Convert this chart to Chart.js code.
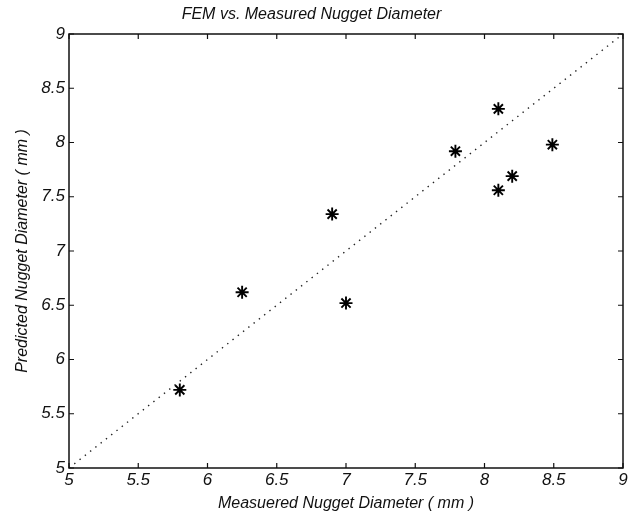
<!DOCTYPE html>
<html>
<head>
<meta charset="utf-8">
<title>FEM vs. Measured Nugget Diameter</title>
<script src="https://cdn.jsdelivr.net/npm/chart.js@4.4.1/dist/chart.umd.min.js"></script>
<style>
  html, body { margin: 0; padding: 0; background: #fff; }
  #wrap { width: 634px; height: 518px; }
</style>
</head>
<body>
<div id="wrap"><canvas id="nuggetChart"></canvas></div>
<script>
// measured vs predicted nugget diameters (mm)
const measured  = [5.80, 6.25, 6.90, 7.00, 7.79, 8.10, 8.10, 8.20, 8.49];
const predicted = [5.72, 6.62, 7.34, 6.52, 7.92, 8.31, 7.56, 7.69, 7.98];
// y = x reference line end points
const refLine = [5, 9];
const tickValues = [5, 5.5, 6, 6.5, 7, 7.5, 8, 8.5, 9];

const FONT = 'Liberation Sans, Arial, Helvetica, sans-serif';
const INK = '#111';

// matlab-style box with inward ticks on all four sides
const boxTicks = {
    id: 'boxTicks',
    afterDraw(chart) {
        const { ctx, chartArea: a, scales: { x, y } } = chart;
        ctx.save();
        ctx.strokeStyle = INK;
        ctx.lineWidth = 1.5;
        ctx.strokeRect(a.left, a.top, a.right - a.left, a.bottom - a.top);
        ctx.lineWidth = 1.2;
        ctx.beginPath();
        tickValues.forEach(v => {
            const px = x.getPixelForValue(v);
            ctx.moveTo(px, a.bottom); ctx.lineTo(px, a.bottom - 5);
            ctx.moveTo(px, a.top); ctx.lineTo(px, a.top + 5);
            const py = y.getPixelForValue(v);
            ctx.moveTo(a.left, py); ctx.lineTo(a.left + 5, py);
            ctx.moveTo(a.right, py); ctx.lineTo(a.right - 5, py);
        });
        ctx.stroke();
        ctx.restore();
    }
};

const tickFont = { family: FONT, size: 17, style: 'italic', weight: 'normal' };
const titleFont = { family: FONT, size: 16, style: 'italic', weight: 'normal' };

new Chart(document.getElementById('nuggetChart'), {
    data: {
        datasets: [
            {
                type: 'scatter',
                data: measured.map((m, i) => ({ x: m, y: predicted[i] })),
                pointStyle: 'star',
                pointRadius: 6.5,
                borderColor: '#000',
                backgroundColor: '#000',
                borderWidth: 1.9,
                order: 1
            },
            {
                type: 'line',
                data: refLine.map(v => ({ x: v, y: v })),
                borderColor: '#222',
                borderWidth: 1.4,
                borderDash: [1.4, 5.3],
                pointRadius: 0,
                fill: false,
                order: 2
            }
        ]
    },
    options: {
        responsive: true,
        maintainAspectRatio: false,
        animation: false,
        layout: { padding: { top: 0, right: 11, bottom: 0, left: 0 } },
        plugins: {
            legend: { display: false },
            tooltip: { enabled: false },
            title: {
                display: true,
                text: 'FEM vs. Measured Nugget Diameter',
                color: INK,
                font: titleFont,
                padding: { top: 5, bottom: 9.8 }
            }
        },
        scales: {
            x: {
                type: 'linear',
                min: 5,
                max: 9,
                grid: { display: false, drawTicks: false },
                border: { display: false },
                ticks: {
                    stepSize: 0.5,
                    color: INK,
                    font: tickFont,
                    padding: 2,
                    callback: v => String(v)
                },
                title: {
                    display: true,
                    text: 'Measuered Nugget Diameter ( mm )',
                    color: INK,
                    font: titleFont,
                    padding: { top: 0, bottom: 5 }
                },
                afterFit(scale) { scale.height = 50; }
            },
            y: {
                type: 'linear',
                min: 5,
                max: 9,
                grid: { display: false, drawTicks: false },
                border: { display: false },
                ticks: {
                    stepSize: 0.5,
                    color: INK,
                    font: tickFont,
                    padding: 4,
                    callback: v => String(v)
                },
                title: {
                    display: true,
                    text: 'Predicted Nugget Diameter ( mm )',
                    color: INK,
                    font: titleFont,
                    padding: { top: 13, bottom: 0 }
                },
                afterFit(scale) { scale.width = 69; }
            }
        }
    },
    plugins: [boxTicks]
});
</script>
</body>
</html>
